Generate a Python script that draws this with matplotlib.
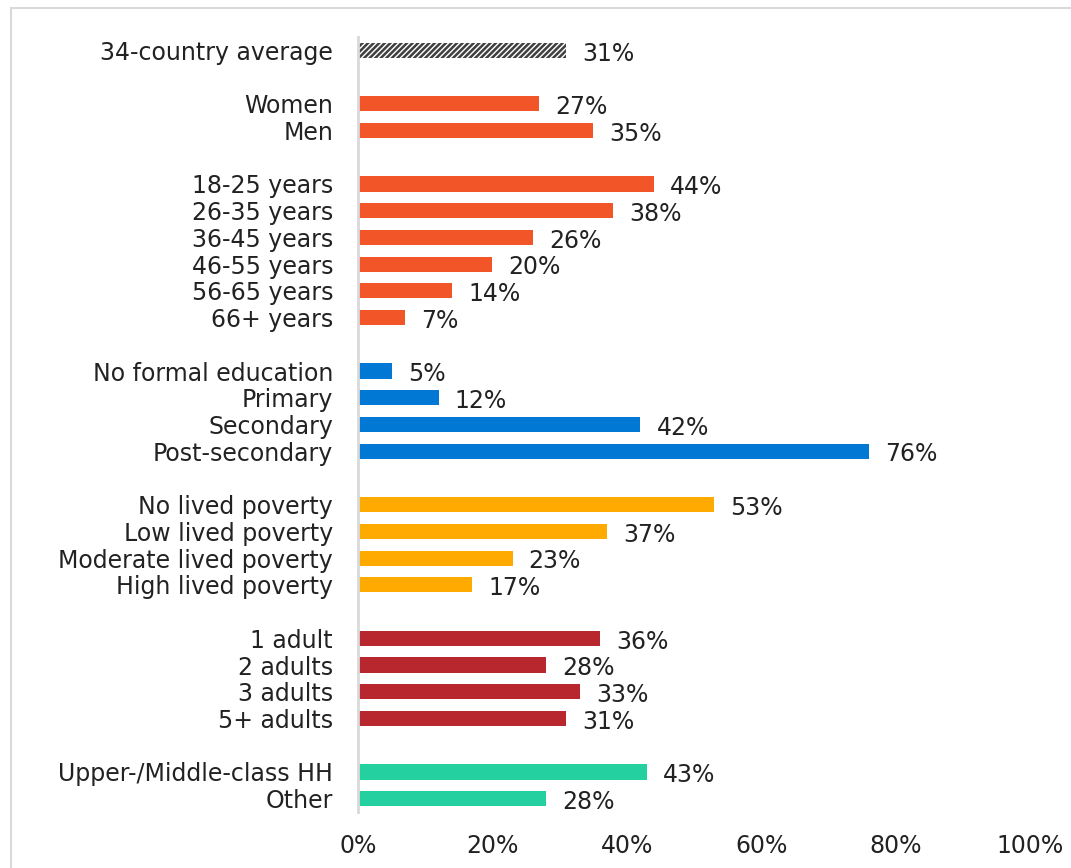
import matplotlib
matplotlib.use("Agg")
import matplotlib.pyplot as plt
from matplotlib.patches import Rectangle

# groups of the chart, top to bottom
avg_labels = ["34-country average"]
avg_values = [31]

gender_labels = ["Women", "Men"]
gender_values = [27, 35]

age_labels = ["18-25 years", "26-35 years", "36-45 years", "46-55 years", "56-65 years", "66+ years"]
age_values = [44, 38, 26, 20, 14, 7]

edu_labels = ["No formal education", "Primary", "Secondary", "Post-secondary"]
edu_values = [5, 12, 42, 76]

poverty_labels = ["No lived poverty", "Low lived poverty", "Moderate lived poverty", "High lived poverty"]
poverty_values = [53, 37, 23, 17]

adults_labels = ["1 adult", "2 adults", "3 adults", "5+ adults"]
adults_values = [36, 28, 33, 31]

class_labels = ["Upper-/Middle-class HH", "Other"]
class_values = [43, 28]

xticks = [0, 20, 40, 60, 80, 100]
xtick_labels = ["0%", "20%", "40%", "60%", "80%", "100%"]

groups = [
    (avg_labels, avg_values, None),
    (gender_labels, gender_values, "#F25528"),
    (age_labels, age_values, "#F25528"),
    (edu_labels, edu_values, "#0078D4"),
    (poverty_labels, poverty_values, "#FFAA00"),
    (adults_labels, adults_values, "#B8272E"),
    (class_labels, class_values, "#24D0A0"),
]

plt.rcParams["font.family"] = "DejaVu Sans"
plt.rcParams["hatch.linewidth"] = 1.8

fig = plt.figure(figsize=(10.71, 8.68), dpi=100)
ax = fig.add_axes([0.3343, 0.0645, 0.6274, 0.8929])

# light grey frame around the chart area
fig.patches.append(Rectangle((11 / 1071, -0.1), 1.2, 1 - 8 / 868 + 0.1,
                             transform=fig.transFigure, fill=False,
                             edgecolor="#d9d9d9", linewidth=1.5))

pos = 0
ypos, ylabels = [], []
for labels, values, color in groups:
    for lab, val in zip(labels, values):
        if color is None:
            ax.barh(pos, val, height=0.57, facecolor="white", edgecolor="#404040",
                    hatch="//////", linewidth=0)
        else:
            ax.barh(pos, val, height=0.57, color=color)
        ax.text(val + 2.4, pos + 0.12, f"{val}%", va="center", ha="left",
                fontsize=17, color="#222222")
        ypos.append(pos)
        ylabels.append(lab)
        pos += 1
    pos += 1
pos -= 1

ax.set_ylim(pos - 0.5, -0.5)
ax.set_xlim(0, 100)
ax.set_yticks(ypos)
ax.set_yticklabels(ylabels, fontsize=17, color="#222222")
ax.set_xticks(xticks)
ax.set_xticklabels(xtick_labels, fontsize=17, color="#222222")
ax.tick_params(length=0)
ax.tick_params(axis="y", pad=18)
ax.tick_params(axis="x", pad=16)

for side in ["top", "right", "bottom"]:
    ax.spines[side].set_visible(False)
ax.spines["left"].set_color("#d9d9d9")
ax.spines["left"].set_linewidth(2)

fig.savefig("out.png", dpi=100)
